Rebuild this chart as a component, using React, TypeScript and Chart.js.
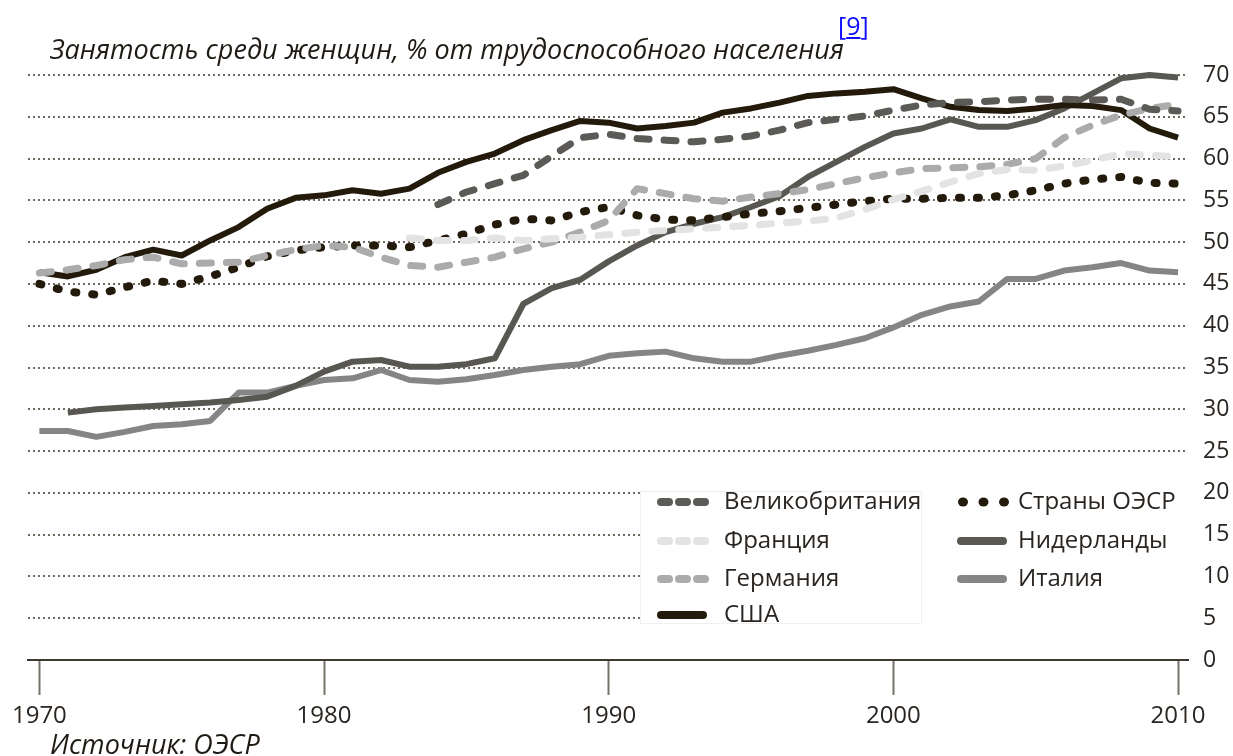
import React, { useEffect, useRef } from 'react';
import { Chart, registerables } from 'chart.js';

Chart.register(...registerables);

const years = [
  1970, 1971, 1972, 1973, 1974, 1975, 1976, 1977, 1978, 1979,
  1980, 1981, 1982, 1983, 1984, 1985, 1986, 1987, 1988, 1989,
  1990, 1991, 1992, 1993, 1994, 1995, 1996, 1997, 1998, 1999,
  2000, 2001, 2002, 2003, 2004, 2005, 2006, 2007, 2008, 2009,
  2010,
];

const usa = [
  46.4, 45.9, 46.7, 48.2, 49.1, 48.4, 50.2, 51.8, 54.0, 55.3,
  55.6, 56.2, 55.8, 56.4, 58.3, 59.6, 60.6, 62.2, 63.4, 64.5,
  64.3, 63.6, 63.9, 64.3, 65.5, 66.0, 66.7, 67.5, 67.8, 68.0,
  68.3, 67.2, 66.2, 65.8, 65.7, 66.0, 66.4, 66.3, 65.8, 63.6,
  62.5,
];

const oecd = [
  45.0, 44.1, 43.7, 44.6, 45.4, 45.0, 45.9, 47.0, 48.3, 49.0,
  49.4, 49.6, 49.6, 49.4, 50.2, 51.0, 52.1, 52.8, 52.6, 53.6,
  54.2, 53.2, 52.7, 52.6, 53.0, 53.4, 53.7, 54.1, 54.5, 54.9,
  55.2, 55.2, 55.3, 55.3, 55.6, 56.2, 57.0, 57.5, 57.8, 57.1,
  57.0,
];

const netherlands = [
  null, 29.6, 30.0, 30.2, 30.4, 30.6, 30.8, 31.1, 31.5, 32.8,
  34.5, 35.7, 35.9, 35.1, 35.1, 35.4, 36.1, 42.6, 44.5, 45.5,
  47.7, 49.6, 51.2, 52.2, 53.0, 54.2, 55.5, 57.8, 59.6, 61.4,
  63.0, 63.6, 64.7, 63.8, 63.8, 64.6, 66.0, 67.8, 69.6, 70.0,
  69.7,
];

const italy = [
  27.4, 27.4, 26.7, 27.3, 28.0, 28.2, 28.6, 32.0, 32.0, 32.8,
  33.5, 33.7, 34.7, 33.5, 33.3, 33.6, 34.1, 34.7, 35.1, 35.4,
  36.4, 36.7, 36.9, 36.1, 35.7, 35.7, 36.4, 37.0, 37.7, 38.5,
  39.8, 41.3, 42.3, 42.9, 45.6, 45.6, 46.6, 47.0, 47.5, 46.6,
  46.4,
];

const uk = [
  null, null, null, null, null, null, null, null, null, null,
  null, null, null, null, 54.5, 56.0, 57.0, 58.0, 60.3, 62.5,
  62.9, 62.4, 62.2, 62.0, 62.3, 62.7, 63.4, 64.3, 64.7, 65.1,
  65.8, 66.4, 66.7, 66.8, 67.0, 67.1, 67.1, 67.0, 67.1, 65.9,
  65.7,
];

const france = [
  null, null, null, null, null, null, null, null, null, null,
  null, null, null, 50.5, 50.2, 50.2, 50.5, 50.2, 50.4, 50.6,
  50.9, 51.2, 51.4, 51.6, 51.8, 52.0, 52.3, 52.5, 52.9, 53.9,
  55.1, 56.1, 57.2, 58.2, 58.7, 58.6, 59.1, 59.8, 60.6, 60.4,
  60.2,
];

const germany = [
  46.3, 46.7, 47.2, 47.9, 48.2, 47.4, 47.5, 47.6, 48.4, 49.1,
  49.6, 49.4, 48.2, 47.2, 47.0, 47.6, 48.2, 49.2, 50.0, 51.2,
  52.6, 56.4, 55.8, 55.2, 54.9, 55.4, 55.8, 56.3, 57.0, 57.7,
  58.3, 58.8, 58.9, 59.0, 59.3, 60.0, 62.5, 64.0, 65.2, 66.0,
  66.5,
];

const xTicks = [1970, 1980, 1990, 2000, 2010];
const yTicks = [0, 5, 10, 15, 20, 25, 30, 35, 40, 45, 50, 55, 60, 65, 70];

const FONT = '"Open Sans", "Noto Sans", sans-serif';
const TEXT = '#2a2520';

type Kind = 'solid' | 'dash' | 'dot';

const seriesDefs: { label: string; values: (number | null)[]; color: string; kind: Kind }[] = [
  { label: 'Великобритания', values: uk, color: '#5b5a57', kind: 'dash' },
  { label: 'Франция', values: france, color: '#e3e3e3', kind: 'dash' },
  { label: 'Германия', values: germany, color: '#ababab', kind: 'dash' },
  { label: 'США', values: usa, color: '#231a0b', kind: 'solid' },
  { label: 'Страны ОЭСР', values: oecd, color: '#231a0b', kind: 'dot' },
  { label: 'Нидерланды', values: netherlands, color: '#595751', kind: 'solid' },
  { label: 'Италия', values: italy, color: '#858585', kind: 'solid' },
];

const legendCols = [
  ['Великобритания', 'Франция', 'Германия', 'США'],
  ['Страны ОЭСР', 'Нидерланды', 'Италия'],
];

const legendPlugin = {
  id: 'boxLegend',
  afterDraw(chart: any) {
    const ctx = chart.ctx as CanvasRenderingContext2D;
    const area = chart.chartArea;
    ctx.save();
    ctx.fillStyle = '#ffffff';
    ctx.fillRect(640, 487, area.right - 640 + 4, 141);
    ctx.strokeStyle = '#f0f0f0';
    ctx.lineWidth = 1;
    ctx.strokeRect(640.5, 491.5, 281, 132);

    const rows = [502, 541, 579, 615];
    const colSample = [657, 957];
    const colText = [724, 1018];
    ctx.font = `24px ${FONT}`;
    ctx.textBaseline = 'middle';
    ctx.textAlign = 'left';
    legendCols.forEach((col, ci) => {
      col.forEach((name, ri) => {
        const def = seriesDefs.find((d) => d.label === name)!;
        const y = rows[ri];
        const x0 = colSample[ci];
        ctx.strokeStyle = def.color;
        ctx.fillStyle = def.color;
        if (def.kind === 'dot') {
          for (let k = 0; k < 3; k++) {
            ctx.beginPath();
            ctx.ellipse(x0 + 6 + k * 20.5, y, 5, 4.5, 0, 0, Math.PI * 2);
            ctx.fill();
          }
        } else if (def.kind === 'dash') {
          ctx.lineWidth = 8;
          ctx.lineCap = 'round';
          ctx.setLineDash([8, 10]);
          ctx.beginPath();
          ctx.moveTo(x0 + 4, y);
          ctx.lineTo(x0 + 48, y);
          ctx.stroke();
          ctx.setLineDash([]);
        } else {
          ctx.lineWidth = 8;
          ctx.lineCap = 'round';
          ctx.beginPath();
          ctx.moveTo(x0 + 4, y);
          ctx.lineTo(x0 + 46, y);
          ctx.stroke();
        }
        ctx.fillStyle = TEXT;
        ctx.fillText(name, colText[ci], y);
      });
    });
    ctx.restore();
  },
};

export default function App() {
  const canvasRef = useRef<HTMLCanvasElement | null>(null);

  useEffect(() => {
    if (!canvasRef.current) return;
    const datasets = seriesDefs.map((d) => ({
      label: d.label,
      data: years.map((yr, i) => ({ x: yr, y: d.values[i] })),
      borderColor: d.color,
      backgroundColor: d.color,
      borderWidth: d.kind === 'dot' ? 8 : d.kind === 'dash' ? 7 : 6,
      borderDash: d.kind === 'dot' ? [2, 16] : d.kind === 'dash' ? [12, 15] : [],
      borderCapStyle: d.kind === 'solid' ? 'butt' : 'round',
      borderJoinStyle: 'round',
      pointRadius: 0,
      tension: 0,
      spanGaps: false,
      clip: 10,
    }));

    const chart = new Chart(canvasRef.current, {
      type: 'line',
      data: { datasets } as any,
      options: {
        responsive: false,
        animation: false,
        events: [],
        layout: { padding: { left: 28, top: 75, right: 0, bottom: 0 } },
        plugins: {
          legend: { display: false },
          tooltip: { enabled: false },
          title: { display: false },
        },
        scales: {
          x: {
            type: 'linear',
            min: 1969.6,
            max: 2010.35,
            afterBuildTicks: (s: any) => {
              s.ticks = xTicks.map((v) => ({ value: v }));
            },
            afterFit: (s: any) => {
              s.height = 96;
            },
            grid: {
              drawOnChartArea: false,
              drawTicks: true,
              tickLength: 35,
              tickWidth: 2,
              tickColor: '#77726a',
            },
            border: { display: true, color: '#3d3830', width: 2 },
            ticks: {
              padding: 7,
              autoSkip: false,
              maxRotation: 0,
              font: { family: FONT, size: 24 },
              color: TEXT,
              callback: (v: any) => String(v),
            },
          },
          y: {
            position: 'right',
            min: 0,
            max: 70,
            afterBuildTicks: (s: any) => {
              s.ticks = yTicks.map((v) => ({ value: v }));
            },
            afterFit: (s: any) => {
              s.width = 45;
            },
            grid: {
              drawTicks: false,
              lineWidth: 2,
              color: (c: any) => (c.tick && c.tick.value === 0 ? 'rgba(0,0,0,0)' : '#6e685f'),
            },
            border: { display: false, dash: [2, 3] },
            ticks: {
              padding: 15,
              autoSkip: false,
              font: { family: FONT, size: 23 },
              color: TEXT,
              callback: (v: any) => String(v),
            },
          },
        },
      } as any,
      plugins: [legendPlugin],
    });
    return () => chart.destroy();
  }, []);

  return (
    <div
      style={{
        position: 'absolute',
        left: 0,
        top: 0,
        width: 1233,
        height: 756,
        overflow: 'hidden',
        background: '#ffffff',
      }}
    >
      <canvas
        ref={canvasRef}
        width={1233}
        height={756}
        style={{ position: 'absolute', left: 0, top: 0, width: 1233, height: 756 }}
      />
      <div
        style={{
          position: 'absolute',
          left: 50,
          top: 31,
          font: `italic 27px ${FONT}`,
          lineHeight: '36px',
          color: '#1f1a14',
          whiteSpace: 'nowrap',
        }}
      >
        Занятость среди женщин, % от трудоспособного населения
      </div>
      <div
        style={{
          position: 'absolute',
          left: 838,
          top: 9,
          font: `25px ${FONT}`,
          lineHeight: '32px',
          color: '#1010ff',
          whiteSpace: 'nowrap',
        }}
      >
        [<span style={{ textDecoration: 'underline' }}>9</span>]
      </div>
      <div
        style={{
          position: 'absolute',
          left: 50,
          top: 726,
          font: `italic 27px ${FONT}`,
          lineHeight: '36px',
          color: '#1f1a14',
          whiteSpace: 'nowrap',
        }}
      >
        Источник: ОЭСР
      </div>
    </div>
  );
}
